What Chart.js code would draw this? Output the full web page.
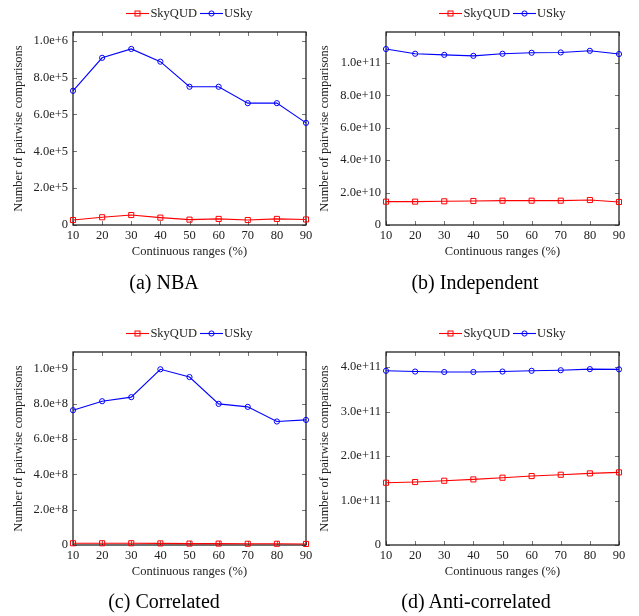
<!DOCTYPE html>
<html>
<head>
<meta charset="utf-8">
<script src="https://cdn.jsdelivr.net/npm/chart.js@4.4.0/dist/chart.umd.min.js"></script>
<style>
  body { margin: 0; background: #fff; width: 639px; height: 616px; position: relative; overflow: hidden; }
  canvas { position: absolute; }
  .legend { position: absolute; font: 12.5px "Liberation Serif", serif; color: #222; text-align: center; white-space: nowrap; line-height: 14px; }
  .legend svg { vertical-align: -1px; margin-right: 1px; }
  .caption { position: absolute; width: 320px; margin-left: -160px; text-align: center; font: 20px "Liberation Serif", serif; color: #000; line-height: 22px; }
</style>
</head>
<body>
<canvas id="nba" width="320" height="275" style="left:0;top:0"></canvas>
<canvas id="ind" width="326" height="275" style="left:313px;top:0"></canvas>
<canvas id="cor" width="320" height="275" style="left:0;top:320px"></canvas>
<canvas id="anti" width="326" height="275" style="left:313px;top:320px"></canvas>

<div class="caption" style="left:164px;top:271px">(a) NBA</div>
<div class="caption" style="left:475px;top:271px">(b) Independent</div>
<div class="caption" style="left:164px;top:590px">(c) Correlated</div>
<div class="caption" style="left:476px;top:590px">(d) Anti-correlated</div>

<script>
// x values (continuous ranges, %)
const ranges = [10, 20, 30, 40, 50, 60, 70, 80, 90];
const xTicks = [10, 20, 30, 40, 50, 60, 70, 80, 90];

// (a) NBA
const nbaSkyQUD = [27e3, 42e3, 54e3, 40e3, 29e3, 33e3, 27e3, 33e3, 30e3];
const nbaUSky = [728e3, 907e3, 955e3, 886e3, 750e3, 750e3, 661e3, 661e3, 554e3];
const nbaTicks = [0, 2e5, 4e5, 6e5, 8e5, 1e6];
const nbaMax = 1.047e6;

// (b) Independent
const indSkyQUD = [1.44e10, 1.44e10, 1.46e10, 1.48e10, 1.50e10, 1.50e10, 1.50e10, 1.54e10, 1.42e10];
const indUSky = [1.085e11, 1.056e11, 1.049e11, 1.043e11, 1.056e11, 1.062e11, 1.064e11, 1.074e11, 1.054e11];
const indTicks = [0, 2e10, 4e10, 6e10, 8e10, 1e11];
const indMax = 1.19e11;

// (c) Correlated
const corSkyQUD = [1.0e7, 1.0e7, 1.0e7, 9e6, 8e6, 8e6, 7e6, 7e6, 6e6];
const corUSky = [0.764e9, 0.815e9, 0.838e9, 0.996e9, 0.952e9, 0.800e9, 0.783e9, 0.700e9, 0.709e9];
const corTicks = [0, 2e8, 4e8, 6e8, 8e8, 1e9];
const corMax = 1.094e9;

// (d) Anti-correlated
const antiSkyQUD = [1.40e11, 1.416e11, 1.445e11, 1.475e11, 1.513e11, 1.55e11, 1.58e11, 1.61e11, 1.633e11];
const antiUSky = [3.917e11, 3.90e11, 3.89e11, 3.89e11, 3.90e11, 3.917e11, 3.93e11, 3.955e11, 3.95e11];
const antiTicks = [0, 1e11, 2e11, 3e11, 4e11];
const antiMax = 4.34e11;

const seriesNames = ['SkyQUD', 'USky'];
const RED = '#ff0000';
const BLUE = '#0000ff';
const FONT = { family: '"Liberation Serif", serif', size: 12.5 };

// box around the plot area plus inward tick marks on all four sides
const framePlugin = {
  id: 'frame',
  beforeDatasetsDraw(chart) {
    const { ctx, chartArea: a, scales } = chart;
    ctx.save();
    ctx.strokeStyle = '#777';
    ctx.lineWidth = 1;
    ctx.beginPath();
    scales.x.ticks.forEach(t => {
      const px = Math.round(scales.x.getPixelForValue(t.value)) + 0.5;
      ctx.moveTo(px, a.bottom); ctx.lineTo(px, a.bottom - 4);
      ctx.moveTo(px, a.top); ctx.lineTo(px, a.top + 4);
    });
    scales.y.ticks.forEach(t => {
      const py = Math.round(scales.y.getPixelForValue(t.value)) + 0.5;
      ctx.moveTo(a.left, py); ctx.lineTo(a.left + 4, py);
      ctx.moveTo(a.right, py); ctx.lineTo(a.right - 4, py);
    });
    ctx.stroke();
    ctx.strokeStyle = '#111';
    ctx.lineWidth = 1.2;
    ctx.strokeRect(a.left, a.top, a.right - a.left, a.bottom - a.top);
    ctx.restore();
  }
};

function fmt(v) {
  return v === 0 ? '0' : v.toExponential(1);
}

function makeChart(id, skyqud, usky, yTicks, yMax, rightPad, titlePad) {
  return new Chart(document.getElementById(id), {
    type: 'line',
    data: {
      labels: ranges,
      datasets: [
        {
          label: seriesNames[0],
          data: ranges.map((x, i) => ({ x: x, y: skyqud[i] })),
          borderColor: RED, borderWidth: 1.1,
          pointStyle: 'rect', pointRadius: 3.6, pointBorderWidth: 1,
          pointBorderColor: RED, pointBackgroundColor: 'rgba(0,0,0,0)',
          clip: false
        },
        {
          label: seriesNames[1],
          data: ranges.map((x, i) => ({ x: x, y: usky[i] })),
          borderColor: BLUE, borderWidth: 1.1,
          pointStyle: 'circle', pointRadius: 2.6, pointBorderWidth: 1,
          pointBorderColor: BLUE, pointBackgroundColor: 'rgba(0,0,0,0)',
          clip: false
        }
      ]
    },
    options: {
      responsive: false,
      animation: false,
      devicePixelRatio: 1,
      layout: { padding: { top: 32, right: rightPad, left: 0, bottom: 0 } },
      plugins: { legend: { display: false }, tooltip: { enabled: false } },
      scales: {
        x: {
          type: 'linear', min: 10, max: 90,
          afterBuildTicks: s => { s.ticks = xTicks.map(v => ({ value: v })); },
          afterFit: s => { s.height = 50; },
          grid: { display: false, drawTicks: false },
          border: { display: false },
          ticks: { color: '#222', font: FONT, padding: 3 },
          title: { display: true, text: 'Continuous ranges (%)', color: '#222', font: FONT, padding: { top: 0, bottom: 15.5 } }
        },
        y: {
          type: 'linear', min: 0, max: yMax,
          afterBuildTicks: s => { s.ticks = yTicks.map(v => ({ value: v })); },
          afterFit: s => { s.width = 73; },
          grid: { display: false, drawTicks: false },
          border: { display: false },
          ticks: { color: '#222', font: FONT, padding: 5, callback: v => fmt(v) },
          title: { display: true, text: 'Number of pairwise comparisons', color: '#222', font: FONT, padding: { top: titlePad, bottom: 0 } }
        }
      }
    },
    plugins: [framePlugin]
  });
}

const charts = [
  makeChart('nba', nbaSkyQUD, nbaUSky, nbaTicks, nbaMax, 14, 11),
  makeChart('ind', indSkyQUD, indUSky, indTicks, indMax, 20, 4.5),
  makeChart('cor', corSkyQUD, corUSky, corTicks, corMax, 14, 11),
  makeChart('anti', antiSkyQUD, antiUSky, antiTicks, antiMax, 20, 4.5)
];

// legend above each plot: short line with the series marker, then the name
function legendHtml(chart) {
  return chart.data.datasets.map(ds => {
    const c = ds.borderColor;
    const mark = ds.pointStyle === 'rect'
      ? `<rect x="9" y="2" width="5" height="5" fill="none" stroke="${c}" stroke-width="1"/>`
      : `<circle cx="11.5" cy="4.5" r="2.6" fill="none" stroke="${c}" stroke-width="1"/>`;
    return `<svg width="23" height="9"><line x1="0" y1="4.5" x2="23" y2="4.5" stroke="${c}" stroke-width="1.1"/>${mark}</svg>${ds.label}`;
  }).join(' ');
}

charts.forEach(ch => {
  const cv = ch.canvas;
  const a = ch.chartArea;
  const div = document.createElement('div');
  div.className = 'legend';
  div.style.left = (cv.offsetLeft + a.left) + 'px';
  div.style.width = (a.right - a.left) + 'px';
  div.style.top = (cv.offsetTop + 6) + 'px';
  div.innerHTML = legendHtml(ch);
  document.body.appendChild(div);
});
</script>
</body>
</html>
